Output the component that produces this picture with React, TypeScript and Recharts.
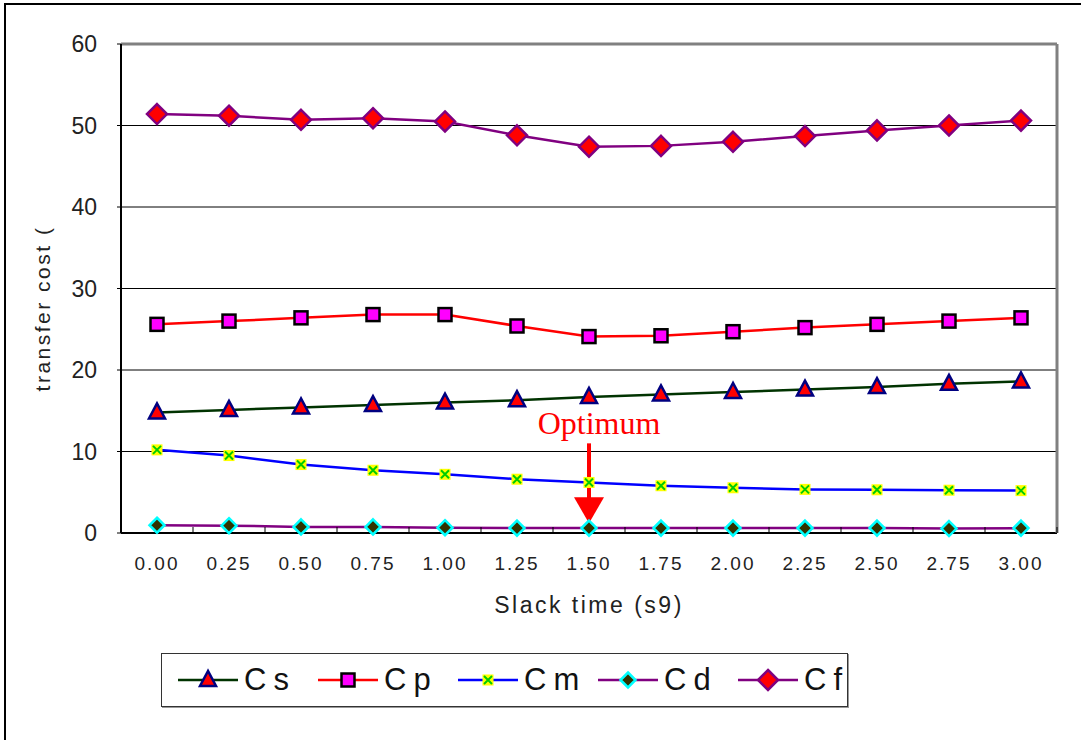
// @ts-nocheck
import { LineChart, Line, XAxis, YAxis, CartesianGrid, ReferenceLine, Label } from 'recharts';

const slack = ['0.00', '0.25', '0.50', '0.75', '1.00', '1.25', '1.50', '1.75', '2.00', '2.25', '2.50', '2.75', '3.00'];
const cs = [14.8, 15.1, 15.4, 15.7, 16.0, 16.3, 16.7, 17.0, 17.3, 17.6, 17.9, 18.3, 18.6];
const cp = [25.6, 26.0, 26.4, 26.8, 26.8, 25.4, 24.1, 24.2, 24.7, 25.2, 25.6, 26.0, 26.4];
const cm = [10.2, 9.5, 8.4, 7.7, 7.2, 6.6, 6.2, 5.8, 5.55, 5.35, 5.3, 5.25, 5.2];
const cd = [0.95, 0.9, 0.75, 0.75, 0.65, 0.6, 0.6, 0.6, 0.6, 0.6, 0.6, 0.55, 0.6];
const cf = [51.4, 51.2, 50.7, 50.9, 50.5, 48.8, 47.4, 47.5, 48.0, 48.7, 49.4, 50.0, 50.6];
const yTicks = [0, 10, 20, 30, 40, 50, 60];
const optimumAt = '1.50';

const data = slack.map((x, i) => ({ x, Cs: cs[i], Cp: cp[i], Cm: cm[i], Cd: cd[i], Cf: cf[i] }));

const W = 1081;
const H = 740;
const PLOT_L = 121;
const PLOT_R = 1057;
const BAND = (PLOT_R - PLOT_L) / slack.length;
const FONT = "'Liberation Sans', Arial, sans-serif";

// marker shapes, centred on (cx, cy)
const Tri = ({ cx, cy }) => (
  <polygon points={`${cx},${cy - 9} ${cx - 8},${cy + 6} ${cx + 8},${cy + 6}`} fill="#ff0000" stroke="#000080" strokeWidth={2.5} />
);
const Sq = ({ cx, cy }) => (
  <rect x={cx - 6.5} y={cy - 6.5} width={13} height={13} fill="#ff00ff" stroke="#000" strokeWidth={2.5} />
);
const XMark = ({ cx, cy }) => (
  <g>
    <rect x={cx - 5.5} y={cy - 5.5} width={11} height={11} fill="#ffff00" />
    <path d={`M${cx - 4},${cy - 4}L${cx + 4},${cy + 4}M${cx + 4},${cy - 4}L${cx - 4},${cy + 4}`} stroke="#00cc00" strokeWidth={2} />
  </g>
);
const SmallDia = ({ cx, cy }) => (
  <polygon points={`${cx},${cy - 7.5} ${cx + 7.5},${cy} ${cx},${cy + 7.5} ${cx - 7.5},${cy}`} fill="#333300" stroke="#00ffff" strokeWidth={2.5} />
);
const BigDia = ({ cx, cy }) => (
  <polygon points={`${cx},${cy - 10} ${cx + 10},${cy} ${cx},${cy + 10} ${cx - 10},${cy}`} fill="#ff0000" stroke="#800080" strokeWidth={2.5} />
);

const SERIES = [
  { key: 'Cs', label: 'Cs', color: '#003300', Mark: Tri },
  { key: 'Cp', label: 'Cp', color: '#ff0000', Mark: Sq },
  { key: 'Cm', label: 'Cm', color: '#0000ff', Mark: XMark },
  { key: 'Cd', label: 'Cd', color: '#800080', Mark: SmallDia },
  { key: 'Cf', label: 'Cf', color: '#800080', Mark: BigDia },
];

function XTick({ x, y, payload }) {
  return (
    <g>
      <line x1={x + BAND / 2} x2={x + BAND / 2} y1={y} y2={y - 6} stroke="#000" strokeWidth={1} />
      <text x={x} y={y + 37} textAnchor="middle" fontSize={19} letterSpacing={2} fill="#222" fontFamily={FONT}>
        {payload.value}
      </text>
    </g>
  );
}

function YTitle({ viewBox }) {
  const vb = viewBox || { x: 61, y: 44, width: 60, height: 489 };
  const cx = vb.x + vb.width - 79;
  const cy = vb.y + vb.height / 2 + 20;
  return (
    <text x={cx} y={cy} transform={`rotate(-90 ${cx} ${cy})`} textAnchor="middle" dominantBaseline="central"
      fontSize={21} letterSpacing={2.5} fill="#222" fontFamily={FONT}>
      transfer cost (
    </text>
  );
}

function OptimumArrow({ x1, y1, x2, y2 }) {
  const head = 26;
  return (
    <g>
      <text x={x1 + 10} y={y1 - 9} textAnchor="middle" fontSize={32} fill="#ff0000" fontFamily="'Liberation Serif', 'Times New Roman', serif">
        Optimum
      </text>
      <line x1={x1} x2={x1} y1={y1} y2={y2 - head + 2} stroke="#ff0000" strokeWidth={4} />
      <polygon points={`${x2 - 15},${y2 - head} ${x2 + 15},${y2 - head} ${x2},${y2}`} fill="#ff0000" />
    </g>
  );
}

function ChartLegend() {
  return (
    <div style={{
      position: 'absolute', left: 161, top: 653, width: 687, height: 54, boxSizing: 'border-box',
      border: '1px solid #333', boxShadow: '1px 1px 0 #999', display: 'flex', alignItems: 'center', paddingLeft: 15,
      fontFamily: FONT,
    }}>
      {SERIES.map(s => (
        <div key={s.key} style={{ display: 'flex', alignItems: 'center', width: 140, flex: 'none' }}>
          <svg width={62} height={30}>
            <line x1={1} x2={61} y1={15} y2={15} stroke={s.color} strokeWidth={2.5} />
            <s.Mark cx={31} cy={15} />
          </svg>
          <span style={{ fontSize: 31, letterSpacing: 7, marginLeft: 5, color: '#111', lineHeight: '30px' }}>{s.label}</span>
        </div>
      ))}
    </div>
  );
}

export default function App() {
  return (
    <div style={{ position: 'absolute', left: 0, top: 0, width: W, height: H, overflow: 'hidden', background: '#fff' }}>
      <div style={{ position: 'absolute', left: 4, top: 3, width: 2000, height: 2000, border: '2px solid #000' }} />
      <div style={{ position: 'absolute', left: 0, top: 0 }}>
        <LineChart width={W} height={H} data={data} margin={{ top: 44, right: 23, left: 61, bottom: 127 }}>
          <CartesianGrid vertical={false} stroke="#000" strokeWidth={1} />
          <XAxis dataKey="x" interval={0} padding={{ left: BAND / 2, right: BAND / 2 }} height={80}
            axisLine={{ stroke: '#000', strokeWidth: 2 }} tickLine={false} tickSize={0} tickMargin={0} tick={<XTick />}>
            <Label value="Slack time (s9)" position="insideBottom" offset={0} fontSize={23} letterSpacing={2.5}
              fill="#222" fontFamily={FONT} />
          </XAxis>
          <YAxis domain={[0, 60]} ticks={yTicks} width={60} interval={0}
            axisLine={{ stroke: '#000', strokeWidth: 2 }} tickLine={{ stroke: '#000' }} tickSize={4} tickMargin={20}
            tick={{ fontSize: 23, fill: '#222', fontFamily: FONT }}>
            <Label content={<YTitle />} />
          </YAxis>
          <YAxis yAxisId="r" orientation="right" domain={[0, 60]} width={1} tick={false} tickLine={false}
            axisLine={{ stroke: '#808080', strokeWidth: 3 }} />
          <ReferenceLine y={60} stroke="#808080" strokeWidth={3} />
          {SERIES.map(s => (
            <Line key={s.key} dataKey={s.key} stroke={s.color} strokeWidth={2.5} isAnimationActive={false}
              dot={(p) => <s.Mark key={`${s.key}-${p.index}`} cx={p.cx} cy={p.cy} />} activeDot={false} />
          ))}
          <ReferenceLine segment={[{ x: optimumAt, y: 11 }, { x: optimumAt, y: 1.2 }]} ifOverflow="visible"
            shape={<OptimumArrow />} />
        </LineChart>
      </div>
      <ChartLegend />
    </div>
  );
}
